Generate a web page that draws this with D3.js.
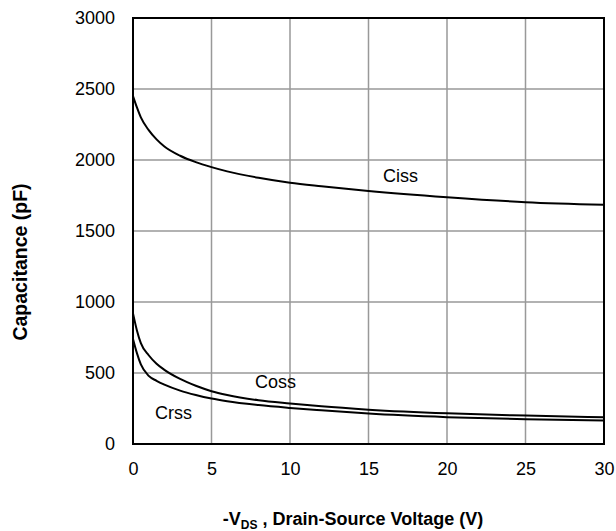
<!DOCTYPE html>
<html>
<head>
<meta charset="utf-8">
<script src="https://cdn.jsdelivr.net/npm/d3@7"></script>
<style>
  body { margin: 0; background: #fff; }
  text { font-family: "Liberation Sans", Arial, sans-serif; }
</style>
</head>
<body>
<div id="chart"></div>
<script>
const width = 616;
const height = 531;

// values
const vds  = [0, 0.25, 0.5, 1, 1.5, 2, 3, 4, 5, 6, 8, 10, 12, 15, 20, 25, 30];
const ciss = [2450, 2370, 2300, 2210, 2145, 2095, 2030, 1985, 1950, 1920, 1875, 1840, 1815, 1782, 1738, 1703, 1685];
const coss = [920, 800, 710, 625, 565, 522, 458, 410, 372, 345, 308, 285, 265, 242, 216, 200, 188];
const crss = [740, 640, 560, 480, 445, 418, 376, 345, 320, 301, 274, 254, 237, 214, 189, 174, 166];
const xTicks = [0, 5, 10, 15, 20, 25, 30];
const yTicks = [0, 500, 1000, 1500, 2000, 2500, 3000];

const pL = 133, pR = 604, pT = 18, pB = 444;

const svg = d3.select("#chart")
  .append("svg")
  .attr("width", width)
  .attr("height", height);

const x = d3.scaleLinear().domain([0, 30]).range([pL, pR]);
const y = d3.scaleLinear().domain([0, 3000]).range([pB, pT]);

// grid
svg.append("g")
  .selectAll("line")
  .data(xTicks.slice(1, -1))
  .enter().append("line")
  .attr("x1", d => x(d)).attr("x2", d => x(d))
  .attr("y1", pT).attr("y2", pB)
  .attr("stroke", "#999").attr("stroke-width", 1.5);

svg.append("g")
  .selectAll("line")
  .data(yTicks.slice(1, -1))
  .enter().append("line")
  .attr("x1", pL).attr("x2", pR)
  .attr("y1", d => y(d)).attr("y2", d => y(d))
  .attr("stroke", "#999").attr("stroke-width", 1.5);

// axes (labels only)
const xAxis = d3.axisBottom(x).tickValues(xTicks).tickFormat(d3.format("d")).tickSize(0).tickPadding(18);
svg.append("g")
  .attr("transform", "translate(0," + pB + ")")
  .call(xAxis)
  .call(g => g.select(".domain").remove())
  .selectAll("text")
  .style("font-size", "18px")
  .attr("fill", "#000");

const yAxis = d3.axisLeft(y).tickValues(yTicks).tickFormat(d3.format("d")).tickSize(0).tickPadding(18);
svg.append("g")
  .attr("transform", "translate(" + pL + ",0)")
  .call(yAxis)
  .call(g => g.select(".domain").remove())
  .selectAll("text")
  .style("font-size", "18px")
  .attr("fill", "#000");

// curves
const line = d3.line()
  .x(d => x(d[0]))
  .y(d => y(d[1]))
  .curve(d3.curveMonotoneX);

[ciss, coss, crss].forEach(s => {
  svg.append("path")
    .datum(vds.map((v, i) => [v, s[i]]))
    .attr("d", line)
    .attr("fill", "none")
    .attr("stroke", "#000")
    .attr("stroke-width", 2);
});

// frame
svg.append("rect")
  .attr("x", pL).attr("y", pT)
  .attr("width", pR - pL).attr("height", pB - pT)
  .attr("fill", "none")
  .attr("stroke", "#000")
  .attr("stroke-width", 2);

// curve labels
svg.append("text").attr("x", 383).attr("y", 182).style("font-size", "18px").text("Ciss");
svg.append("text").attr("x", 255).attr("y", 388).style("font-size", "18px").text("Coss");
svg.append("text").attr("x", 155).attr("y", 419).style("font-size", "18px").text("Crss");

// axis titles
const xt = svg.append("text")
  .attr("x", 353).attr("y", 525)
  .attr("text-anchor", "middle")
  .style("font-size", "18px")
  .style("font-weight", "bold");
xt.append("tspan").text("-V");
xt.append("tspan").attr("dy", 4).style("font-size", "12px").text("DS");
xt.append("tspan").attr("dy", -4).text(" , Drain-Source Voltage (V)");

svg.append("text")
  .attr("transform", "translate(27,262) rotate(-90)")
  .attr("text-anchor", "middle")
  .style("font-size", "19.5px")
  .style("font-weight", "bold")
  .text("Capacitance (pF)");
</script>
</body>
</html>
